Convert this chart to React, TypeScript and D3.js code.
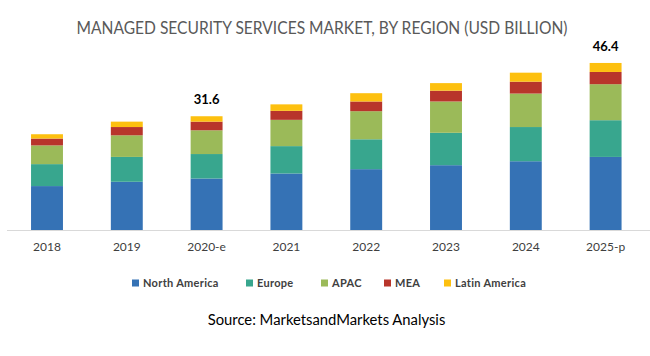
import React from "react";
import * as d3 from "d3";

const years = ["2018", "2019", "2020-e", "2021", "2022", "2023", "2024", "2025-p"];
const regions = ["North America", "Europe", "APAC", "MEA", "Latin America"];
const northAmerica = [12.2, 13.4, 14.3, 15.7, 16.9, 18.0, 19.1, 20.3];
const europe = [6.1, 6.9, 6.8, 7.6, 8.3, 9.0, 9.5, 10.2];
const apac = [5.2, 6.0, 6.6, 7.3, 7.8, 8.7, 9.3, 10.0];
const mea = [1.9, 2.3, 2.4, 2.5, 2.7, 3.0, 3.3, 3.4];
const latinAmerica = [1.2, 1.5, 1.5, 1.8, 2.3, 2.1, 2.5, 2.5];
const totalLabels: { year: string; text: string }[] = [
  { year: "2020-e", text: "31.6" },
  { year: "2025-p", text: "46.4" },
];
const colors = ["#3572b5", "#38a68e", "#9bba59", "#b8352b", "#fdc00f"];

const W = 650;
const H = 356;

export default function App() {
  const series = [northAmerica, europe, apac, mea, latinAmerica];
  const rows = years.map((y, i) => {
    const r: any = { year: y };
    regions.forEach((k, j) => (r[k] = series[j][i]));
    return r;
  });
  const stacked = d3.stack<any>().keys(regions)(rows);
  const x = d3.scaleBand<string>().domain(years).range([7.1, 645.5]).paddingInner(0.6).paddingOuter(0.3);
  const y = d3.scaleLinear().domain([0, 50]).range([230, 50]);
  const font = "Lato, 'Open Sans', sans-serif";
  const legendX = [132, 246, 321, 384, 444];

  return (
    <svg width={W} height={H} style={{ position: "absolute", left: 0, top: 0, background: "#fff" }}>
      <text x={322} y={34} textAnchor="middle" fontFamily={font} fontSize={17} fill="#595959" textLength={491} lengthAdjust="spacingAndGlyphs">
        MANAGED SECURITY SERVICES MARKET, BY REGION (USD BILLION)
      </text>
      {stacked.map((s, si) => (
        <g key={s.key} fill={colors[si]}>
          {s.map((d, i) => (
            <rect key={i} x={x(years[i])} width={x.bandwidth()} y={y(d[1])} height={y(d[0]) - y(d[1])} />
          ))}
        </g>
      ))}
      <line x1={7} x2={650} y1={230.5} y2={230.5} stroke="#d9d9d9" strokeWidth={1} />
      {years.map((yr) => (
        <text key={yr} x={(x(yr) as number) + x.bandwidth() / 2} y={251} textAnchor="middle" fontFamily={font} fontSize={12} fill="#404040">
          {yr}
        </text>
      ))}
      {totalLabels.map((t) => {
        const i = years.indexOf(t.year);
        const top = stacked[stacked.length - 1][i][1];
        return (
          <text key={t.year} x={(x(t.year) as number) + x.bandwidth() / 2} y={y(top) - 12} textAnchor="middle" fontFamily={font} fontWeight="bold" fontSize={13} fill="#000">
            {t.text}
          </text>
        );
      })}
      {regions.map((r, i) => (
        <g key={r} transform={`translate(${legendX[i]},283)`}>
          <rect x={0} y={-3.5} width={7} height={7} fill={colors[i]} />
          <text x={11} y={4} fontFamily={font} fontWeight="bold" fontSize={11} letterSpacing={0.3} fill="#404040">
            {r}
          </text>
        </g>
      ))}
      <text x={326.5} y={325} textAnchor="middle" fontFamily={font} fontSize={14.8} fill="#000">
        Source: MarketsandMarkets Analysis
      </text>
    </svg>
  );
}
